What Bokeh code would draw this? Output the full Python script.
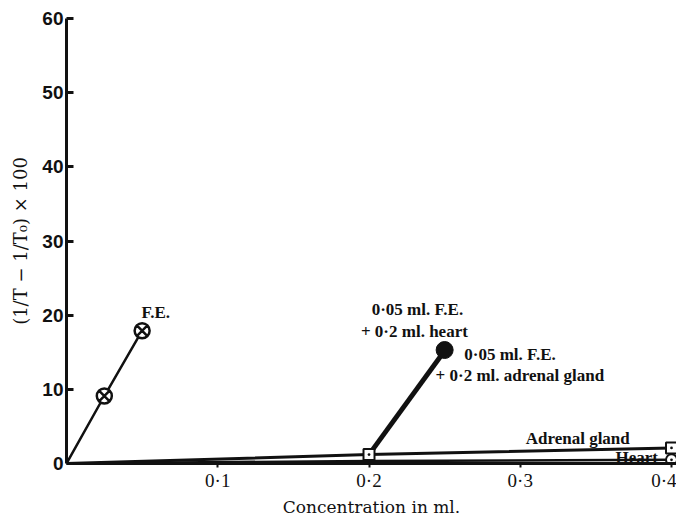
from bokeh.plotting import figure
from bokeh.models import Range1d, FixedTicker, Label
from bokeh.embed import file_html
from bokeh.resources import INLINE

# ---- data ----
fe_x = [0.0, 0.025, 0.05]
fe_y = [0.0, 9.1, 17.9]

mix_x = [0.2, 0.25]
mix_heart_y = [1.1, 15.1]
mix_adrenal_y = [1.3, 15.3]

adrenal_x = [0.0, 0.2, 0.4]
adrenal_y = [0.0, 1.2, 2.1]

heart_x = [0.0, 0.2, 0.4]
heart_y = [0.0, 0.35, 0.5]

x_ticks = [0.1, 0.2, 0.3, 0.4]
x_tick_labels = ["0·1", "0·2", "0·3", "0·4"]
y_ticks = [0, 10, 20, 30, 40, 50, 60]

serif = "Liberation Serif"
wide_serif = "DejaVu Serif"
ink = "#111111"

p = figure(width=676, height=519, x_range=Range1d(0, 0.4033), y_range=Range1d(0, 60),
           min_border_left=66, min_border_right=0, min_border_top=18, min_border_bottom=54,
           output_backend="svg", toolbar_location=None)
p.outline_line_color = None
p.grid.visible = False
p.background_fill_color = "white"

# axes
p.xaxis.ticker = FixedTicker(ticks=x_ticks)
p.xaxis.major_label_overrides = {t: l for t, l in zip(x_ticks, x_tick_labels)}
p.xaxis.axis_label = "Concentration in ml."
p.xaxis.axis_label_text_font = wide_serif
p.xaxis.axis_label_text_font_style = "normal"
p.xaxis.axis_label_text_font_size = "17px"
p.xaxis.axis_label_text_color = ink
p.xaxis.axis_label_standoff = 3
p.xaxis.major_label_text_font = serif
p.xaxis.major_label_text_font_size = "19px"
p.xaxis.major_label_text_color = ink
p.xaxis.major_label_standoff = 2
p.xaxis.axis_line_width = 3
p.xaxis.axis_line_color = ink
p.xaxis.major_tick_in = 0
p.xaxis.major_tick_out = 4
p.xaxis.major_tick_line_width = 2
p.xaxis.major_tick_line_color = ink
p.xaxis.minor_tick_line_color = None

p.yaxis.ticker = FixedTicker(ticks=y_ticks)
p.yaxis.axis_label = "(1/T − 1/T₀) × 100"
p.yaxis.axis_label_text_font = wide_serif
p.yaxis.axis_label_text_font_style = "normal"
p.yaxis.axis_label_text_font_size = "18px"
p.yaxis.axis_label_text_color = ink
p.yaxis.axis_label_standoff = 8
p.yaxis.major_label_text_font = "Liberation Sans"
p.yaxis.major_label_text_font_style = "bold"
p.yaxis.major_label_text_font_size = "19px"
p.yaxis.major_label_text_color = ink
p.yaxis.major_label_standoff = 3
p.yaxis.axis_line_width = 3
p.yaxis.axis_line_color = ink
p.yaxis.major_tick_in = 7
p.yaxis.major_tick_out = 0
p.yaxis.major_tick_line_width = 3
p.yaxis.major_tick_line_color = ink
p.yaxis.minor_tick_line_color = None

# lines
p.line(heart_x, heart_y, line_width=2.5, line_color=ink)
p.line(adrenal_x, adrenal_y, line_width=3, line_color=ink)
p.line(fe_x, fe_y, line_width=2.5, line_color=ink)
p.line(mix_x, mix_heart_y, line_width=4, line_color=ink)
p.line(mix_x, mix_adrenal_y, line_width=4, line_color=ink)

# markers
p.scatter(fe_x[1:], fe_y[1:], marker="circle_x", size=15, fill_color="white",
          line_color=ink, line_width=2.5)
p.scatter(mix_x[1:], mix_adrenal_y[1:], marker="circle", size=17, fill_color=ink,
          line_color=ink)
p.scatter(adrenal_x[1:], adrenal_y[1:], marker="square_dot", size=11, fill_color="white",
          line_color=ink, line_width=2)
p.scatter(heart_x[2:], heart_y[2:], marker="circle_dot", size=11, fill_color="white",
          line_color=ink, line_width=2)

# annotations
notes = [
    ("F.E.", 0.059, 20.3, "center"),
    ("0·05 ml. F.E.", 0.232, 20.7, "center"),
    ("+ 0·2 ml. heart", 0.230, 17.8, "center"),
    ("0·05 ml. F.E.", 0.263, 14.7, "left"),
    ("+ 0·2 ml. adrenal gland", 0.244, 11.9, "left"),
    ("Adrenal gland", 0.338, 3.4, "center"),
    ("Heart", 0.377, 0.8, "center"),
]
for txt, x, y, al in notes:
    p.add_layout(Label(x=x, y=y, text=txt, text_font=serif, text_font_size="17px",
                       text_font_style="bold", text_color=ink, text_align=al,
                       text_baseline="middle"))

open("out.html", "w").write(file_html(p, INLINE))
